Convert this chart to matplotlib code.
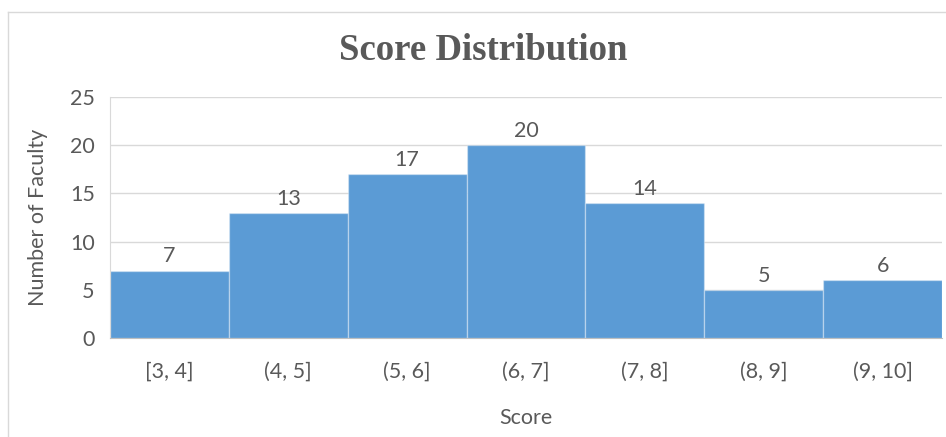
import matplotlib
matplotlib.use("Agg")
import matplotlib.pyplot as plt
from matplotlib.lines import Line2D

categories = ["[3, 4]", "(4, 5]", "(5, 6]", "(6, 7]", "(7, 8]", "(8, 9]", "(9, 10]"]
counts = [7, 13, 17, 20, 14, 5, 6]
yticks = [0, 5, 10, 15, 20, 25]

txt = "#595959"
fs = 15.5
fig = plt.figure(figsize=(9.46, 4.37), dpi=100)
ax = fig.add_axes([110/946, (437-338)/437, (942-110)/946, (338-97)/437])

x = list(range(len(categories)))
ax.bar(x, counts, width=1.0, color="#5B9BD5", edgecolor=(1, 1, 1, 0.35), linewidth=1.0, zorder=2)
for xi, v in zip(x, counts):
    ax.annotate(str(v), (xi, v), xytext=(0, 3), textcoords="offset points",
                ha="center", va="bottom", fontsize=fs, color=txt, family="Lato")

ax.set_xlim(-0.5, len(categories) - 0.5)
ax.set_ylim(0, 25)
ax.set_yticks(yticks)
ax.set_xticks(x)
ax.set_xticklabels(categories)
ax.yaxis.grid(True, color="#d9d9d9", linewidth=1.0, zorder=0)
ax.set_axisbelow(True)
for s in ["top", "right"]:
    ax.spines[s].set_visible(False)
ax.spines["left"].set_color("#d9d9d9")
ax.spines["bottom"].set_color("#bfbfbf")
ax.tick_params(axis="both", length=0, labelsize=fs, labelcolor=txt)
ax.tick_params(axis="x", pad=17)
ax.tick_params(axis="y", pad=11)
for lab in ax.get_xticklabels() + ax.get_yticklabels():
    lab.set_family("Lato")

ax.set_xlabel("Score", fontsize=fs, color=txt, family="Lato", labelpad=19)
ax.set_ylabel("Number of Faculty", fontsize=fs, color=txt, family="Lato", labelpad=16)
fig.text(0.5 + 10/946, 1 - 50/437, "Score Distribution", ha="center", va="center",
         fontsize=26.5, fontweight="bold", color=txt, family="Liberation Serif")

fig.add_artist(Line2D([8/946, 8/946], [0, 1 - 12/437], color="#d9d9d9", lw=1, transform=fig.transFigure))
fig.add_artist(Line2D([8/946, 1], [1 - 12/437, 1 - 12/437], color="#d9d9d9", lw=1, transform=fig.transFigure))

fig.savefig("out.png", dpi=100)
